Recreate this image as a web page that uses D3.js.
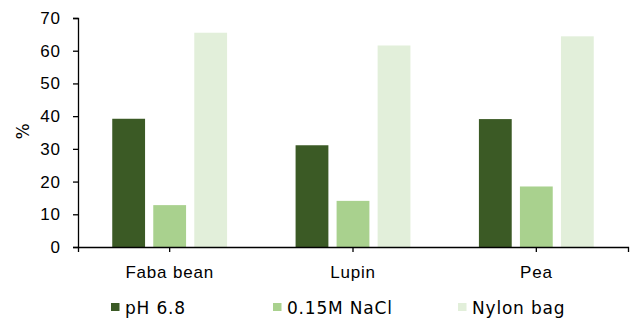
<!DOCTYPE html>
<html lang="en">
<head>
  <meta charset="UTF-8">
  <title>Protein solubility</title>
  <script src="https://d3js.org/d3.v7.min.js"></script>
  <style>
    body { margin: 0; padding: 0; background: #fff; }
    svg { font-family: "DejaVu Sans", Verdana, sans-serif; }
    text { letter-spacing: 0.8px; }
  </style>
</head>
<body>
<svg id="chart" width="634" height="320"></svg>
<script>
const categories = ["Faba bean", "Lupin", "Pea"];
const seriesNames = ["pH 6.8", "0.15M NaCl", "Nylon bag"];
const seriesColors = ["#3B5A25", "#A9D18E", "#E2EFDA"];
const ph68 = [39.2, 31.1, 39.1];
const nacl = [12.8, 14.1, 18.5];
const nylon = [65.5, 61.6, 64.4];
const yTicks = [0, 10, 20, 30, 40, 50, 60, 70];

const series = [ph68, nacl, nylon];
const svg = d3.select("#chart");
const plotLeft = 78, plotRight = 628, plotTop = 18, plotBottom = 247;
const fs = 17;

const x = d3.scaleBand().domain(categories).range([plotLeft, plotRight]).paddingInner(0).paddingOuter(0);
const xs = d3.scaleBand().domain(seriesNames).range([0, x.bandwidth()]).paddingInner(0.2).paddingOuter(0.835);
const y = d3.scaleLinear().domain([0, 70]).range([plotBottom, plotTop]);

// bars
categories.forEach((c, ci) => {
  svg.append("g")
    .selectAll("rect")
    .data(seriesNames)
    .join("rect")
    .attr("x", s => x(c) + xs(s))
    .attr("y", (s, si) => y(series[si][ci]))
    .attr("width", xs.bandwidth())
    .attr("height", (s, si) => plotBottom - y(series[si][ci]))
    .attr("fill", (s, si) => seriesColors[si]);
});

// y axis
const yAxis = svg.append("g")
  .attr("transform", `translate(${plotLeft},0)`)
  .call(d3.axisLeft(y).tickValues(yTicks).tickSize(5).tickSizeOuter(5).tickPadding(13));
yAxis.selectAll("text").attr("font-size", fs).attr("fill", "#000").attr("font-family", null)
  .style("letter-spacing", "0.8px").attr("dx", "0.8");
yAxis.selectAll("line, path").attr("stroke", "#000").attr("stroke-width", 1.3);

// x axis
const xAxis = svg.append("g")
  .attr("transform", `translate(0,${plotBottom})`)
  .call(d3.axisBottom(x).tickSize(5).tickSizeOuter(5).tickPadding(14));
xAxis.selectAll("text").attr("font-size", fs).attr("fill", "#000").attr("font-family", null);
xAxis.selectAll("line, path").attr("stroke", "#000").attr("stroke-width", 1.3);

// y label
svg.append("text")
  .attr("transform", "translate(23.5,131) rotate(-90)")
  .attr("text-anchor", "middle")
  .attr("dy", "0.35em")
  .attr("font-size", fs)
  .text("%");

// legend
const legendX = [111, 273, 458];
const legend = svg.append("g")
  .selectAll("g")
  .data(seriesNames)
  .join("g")
  .attr("transform", (d, i) => `translate(${legendX[i]},303)`);
legend.append("rect")
  .attr("width", 8.5).attr("height", 8)
  .attr("fill", (d, i) => seriesColors[i]);
legend.append("text")
  .attr("x", 14).attr("y", 11)
  .attr("font-size", fs)
  .text(d => d);
</script>
</body>
</html>
